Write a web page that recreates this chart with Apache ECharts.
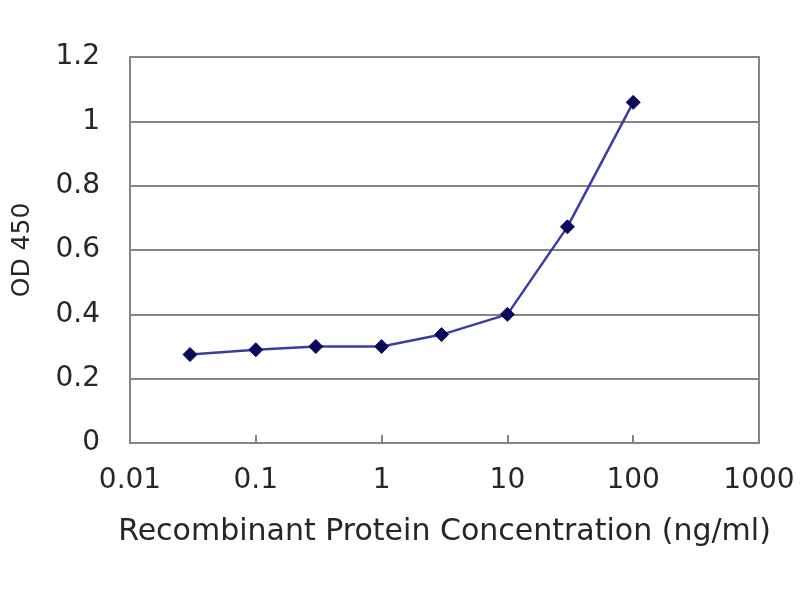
<!DOCTYPE html>
<html>
<head>
<meta charset="utf-8">
<script src="https://cdn.jsdelivr.net/npm/echarts@6/dist/echarts.min.js"></script>
<style>
html,body{margin:0;padding:0;background:#fff;}
#chart{width:800px;height:600px;}
</style>
</head>
<body>
<div id="chart"></div>
<script>
// Data
var concentrations = [0.03, 0.1, 0.3, 1, 3, 10, 30, 100];
var od450 = [0.275, 0.29, 0.30, 0.30, 0.337, 0.40, 0.672, 1.059];
var xMin = 0.01, xMax = 1000;
var yMin = 0, yMax = 1.2, yStep = 0.2;
var xTitle = 'Recombinant Protein Concentration (ng/ml)';
var yTitle = 'OD 450';

var points = concentrations.map(function (c, i) { return [c, od450[i]]; });

var chart = echarts.init(document.getElementById('chart'), null, {renderer: 'canvas'});
var font = 'DejaVu Sans';
var textColor = '#262626';
chart.setOption({
  backgroundColor: '#ffffff',
  animation: false,
  grid: {
    left: 130, right: 41, top: 57, bottom: 157,
    show: true, borderColor: '#858585', borderWidth: 2, backgroundColor: 'transparent'
  },
  xAxis: {
    type: 'log', logBase: 10, min: xMin, max: xMax,
    name: xTitle, nameLocation: 'middle', nameGap: 74,
    nameTextStyle: {fontFamily: font, fontSize: 30, color: textColor},
    axisLine: {show: true, lineStyle: {color: '#858585', width: 2}},
    axisTick: {show: true, inside: true, length: 8, lineStyle: {color: '#858585', width: 2}},
    minorTick: {show: false},
    splitLine: {show: false},
    axisLabel: {
      fontFamily: font, fontSize: 28, color: textColor, margin: 24,
      formatter: function (v) { return String(+Number(v).toPrecision(6)); }
    }
  },
  yAxis: {
    type: 'value', min: yMin, max: yMax, interval: yStep,
    name: yTitle, nameLocation: 'middle', nameGap: 95, nameRotate: 90,
    nameTextStyle: {fontFamily: font, fontSize: 25, color: textColor},
    axisLine: {show: true, lineStyle: {color: '#858585', width: 2}},
    axisTick: {show: false},
    splitLine: {show: true, lineStyle: {color: '#858585', width: 2}},
    axisLabel: {
      fontFamily: font, fontSize: 28, color: textColor, margin: 30,
      formatter: function (v) { return String(+Number(v).toFixed(1)).replace(/^(\d+)\.0$/, '$1'); }
    }
  },
  series: [{
    type: 'line',
    data: points,
    symbol: 'diamond',
    symbolSize: 14,
    lineStyle: {color: '#3c3ca6', width: 2.5},
    itemStyle: {color: '#0a0a5a', borderColor: '#0a0a5a'},
    z: 5
  }]
});
</script>
</body>
</html>
